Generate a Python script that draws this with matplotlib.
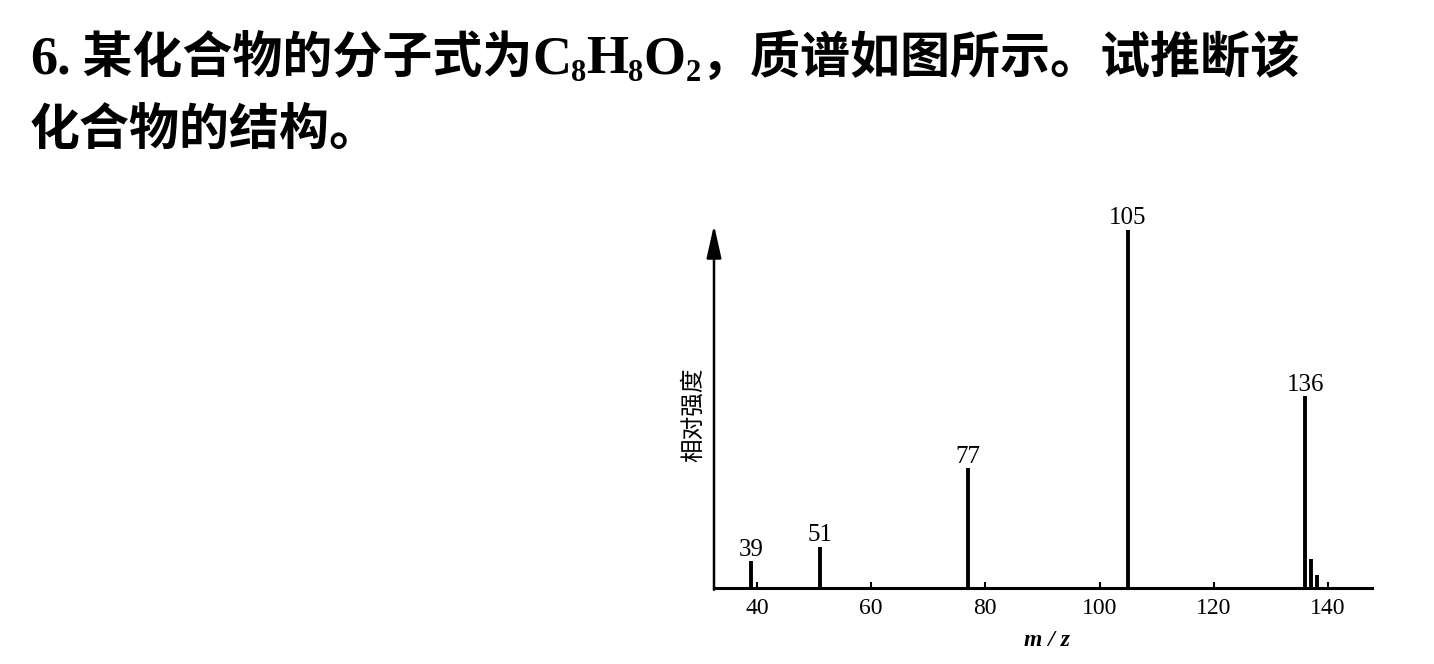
import matplotlib
matplotlib.use('Agg')
import matplotlib.pyplot as plt
from matplotlib.font_manager import FontProperties

# mass spectrum data (relative intensity, base peak = 100)
mz = [39, 51, 77, 105, 136, 137, 138]
intensity = [7.5, 11.5, 33.5, 100, 53.5, 8, 3.5]
labelled = [39, 51, 77, 105, 136]
xticks = [40, 60, 80, 100, 120, 140]

W, H = 1434, 664
fig = plt.figure(figsize=(W / 100, H / 100), dpi=100)

serif = 'Liberation Serif'
cjk = FontProperties(family='Noto Sans CJK SC', weight='bold', size=36)
lat = FontProperties(family=serif, weight='bold', size=39)
sub = FontProperties(family=serif, weight='bold', size=22)

# question text, written piece by piece
renderer = fig.canvas.get_renderer()


def write_line(pieces, x, baseline):
    for s, fp, dy in pieces:
        t = fig.text(x / W, 1 - (baseline + dy) / H, s, fontproperties=fp,
                     ha='left', va='baseline')
        x += t.get_window_extent(renderer).width


write_line([('6.', lat, 0), (' 某化合物的分子式为', cjk, 0),
            ('C', lat, 0), ('8', sub, 8), ('H', lat, 0), ('8', sub, 8),
            ('O', lat, 0), ('2', sub, 8),
            ('，质谱如图所示。试推断该', cjk, 0)], 30, 73)
write_line([('化合物的结构。', cjk, 0)], 30, 146)

# spectrum
ax = fig.add_axes([714 / W, (H - 588) / H, (1372 - 714) / W, (588 - 225) / H])
ax.vlines(mz, 0, intensity, color='black', lw=2.8)
for m, v in zip(mz, intensity):
    if m in labelled:
        ax.annotate(str(m), xy=(m, v), xytext=(0, 4), textcoords='offset points',
                    ha='center', va='baseline', fontsize=18, family=serif)

ax.set_xlim(32.5, 147.7)
ax.set_ylim(0, 101.4)
ax.set_xticks(xticks)
ax.set_xticklabels([str(t) for t in xticks], fontsize=17, family=serif)
ax.tick_params(axis='x', direction='in', length=4, width=1.5, pad=7)
ax.set_yticks([])
for s in ['top', 'right', 'left']:
    ax.spines[s].set_visible(False)
ax.spines['bottom'].set_linewidth(2.2)

ax.annotate('', xy=(0, 1), xycoords='axes fraction', xytext=(0, -0.005),
            arrowprops=dict(arrowstyle='-|>,head_length=0.8,head_width=0.18',
                            mutation_scale=25, lw=1.8, color='black',
                            shrinkA=0, shrinkB=0), annotation_clip=False)

fig.text(693 / W, 1 - 415 / H, '相对强度', rotation=90, ha='center', va='center',
         fontsize=17, family='Noto Sans CJK SC')
fig.text(1047 / W, 1 - 640 / H, 'm / z', ha='center', va='center',
         fontsize=17, family=serif, weight='bold', style='italic')

fig.savefig('out.png', dpi=100)
